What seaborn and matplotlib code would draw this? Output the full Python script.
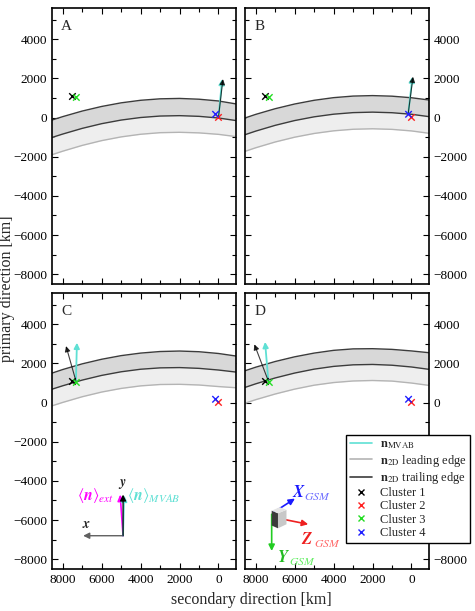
import matplotlib
matplotlib.use('Agg')
import matplotlib.pyplot as plt
import seaborn as sns
import numpy as np
from matplotlib.lines import Line2D
from matplotlib.patches import Polygon
from matplotlib.ticker import MultipleLocator, FuncFormatter


# positions along the secondary direction where the boundaries were read [km]
edge_x = [8600, 8000, 7000, 6000, 5000, 4000, 3000, 2000, 1000, 0, -900]

# boundary curves (primary direction, km) for each panel
a_upper = [-140, 50, 335, 570, 755, 885, 960, 980, 940, 850, 700]
a_trail = [-1030, -840, -550, -310, -125, 5, 80, 100, 65, -20, -150]
a_lead = [-1910, -1715, -1420, -1175, -985, -850, -770, -750, -780, -855, -970]

b_upper = [-35, 165, 455, 695, 885, 1020, 1100, 1125, 1095, 1015, 900]
b_trail = [-890, -690, -395, -150, 40, 175, 255, 280, 250, 170, 50]
b_lead = [-1740, -1540, -1245, -1000, -810, -675, -595, -570, -600, -680, -800]

c_upper = [1490, 1690, 1980, 2215, 2400, 2530, 2610, 2635, 2600, 2510, 2380]
c_trail = [670, 860, 1150, 1390, 1575, 1705, 1775, 1790, 1750, 1665, 1560]
c_lead = [-180, 10, 300, 540, 725, 855, 925, 935, 900, 820, 760]

d_upper = [1610, 1810, 2100, 2340, 2530, 2670, 2745, 2755, 2720, 2640, 2550]
d_trail = [760, 960, 1260, 1510, 1710, 1850, 1930, 1950, 1910, 1820, 1700]
d_lead = [-45, 150, 440, 690, 890, 1025, 1105, 1130, 1100, 1000, 880]

# spacecraft positions
cluster_names = ['Cluster 1', 'Cluster 2', 'Cluster 3', 'Cluster 4']
cluster_sec = [7500, 0, 7300, 150]
cluster_pri = [1080, 10, 1030, 170]
cluster_colors = ['black', '#ff2020', '#22dd22', '#2020ff']

# normal vectors for panels A-D: base point and components [km]
panel_names = ['A', 'B', 'C', 'D']
normal_sec0 = [0, 170, 7320, 7350]
normal_pri0 = [20, 190, 1100, 1100]
n2d_dsec = [-230, -250, 510, 720]
n2d_dpri = [1950, 1900, 1790, 1880]
mvab_dsec = [-190, -220, -50, 170]
mvab_dpri = [1950, 1900, 1960, 2000]

CYAN = '#5fe0d4'
DARK = '#3c3c3c'
LIGHT = '#b4b4b4'

sns.set_style('ticks')
plt.rcParams['font.family'] = 'serif'
plt.rcParams['font.serif'] = ['Liberation Serif', 'DejaVu Serif']
plt.rcParams['mathtext.fontset'] = 'stix'

fig = plt.figure(figsize=(4.75, 6.11), dpi=100)
W, H = 475.0, 611.0
boxes = [(52, 8), (245, 8), (52, 293), (245, 293)]
curves = [(a_upper, a_trail, a_lead), (b_upper, b_trail, b_lead),
          (c_upper, c_trail, c_lead), (d_upper, d_trail, d_lead)]


def arrow(ax, x0, y0, dx, dy, color, lw=1.0, alpha=1.0, scale=8):
    ax.annotate('', xy=(x0 + dx, y0 + dy), xytext=(x0, y0),
                arrowprops=dict(arrowstyle='-|>', color=color, lw=lw,
                                alpha=alpha, mutation_scale=scale,
                                shrinkA=0, shrinkB=0))


def km_label(v, pos):
    return '%d' % v if v >= 0 else '\u2212%d' % -v


axes = []
for i, (px, py) in enumerate(boxes):
    ax = fig.add_axes([px / W, 1 - (py + 276) / H, 184 / W, 276 / H])
    axes.append(ax)
    upper, trail, lead = curves[i]

    # the structure between the boundaries
    ax.fill_between(edge_x, upper, trail, color='#d8d8d8', lw=0)
    ax.fill_between(edge_x, trail, lead, color='#eeeeee', lw=0)
    sns.lineplot(x=edge_x, y=lead, ax=ax, color=LIGHT, lw=1.0,
                 sort=False, estimator=None)
    sns.lineplot(x=edge_x, y=upper, ax=ax, color=DARK, lw=1.0,
                 sort=False, estimator=None)
    sns.lineplot(x=edge_x, y=trail, ax=ax, color=DARK, lw=1.0,
                 sort=False, estimator=None)

    # normals
    arrow(ax, normal_sec0[i], normal_pri0[i], mvab_dsec[i], mvab_dpri[i],
          CYAN, lw=1.3)
    arrow(ax, normal_sec0[i], normal_pri0[i], n2d_dsec[i], n2d_dpri[i],
          'black', lw=0.8, alpha=0.75)

    sns.scatterplot(x=cluster_sec, y=cluster_pri, hue=cluster_names,
                    palette=cluster_colors, marker='x', s=22, linewidth=1.0,
                    legend=False, ax=ax, zorder=5)

    ax.set_xlim(8550, -900)
    ax.set_ylim(-8500, 5600)
    ax.xaxis.set_major_locator(MultipleLocator(2000))
    ax.xaxis.set_minor_locator(MultipleLocator(1000))
    ax.yaxis.set_major_locator(MultipleLocator(2000))
    ax.yaxis.set_minor_locator(MultipleLocator(1000))
    ax.tick_params(which='both', direction='in', top=True, right=True,
                   width=0.8, labelsize=9.5, colors='black')
    ax.tick_params(which='major', length=4)
    ax.tick_params(which='minor', length=3)
    ax.tick_params(labelleft=(i % 2 == 0), labelright=(i % 2 == 1),
                   labelbottom=(i >= 2))
    for sp in ax.spines.values():
        sp.set_linewidth(1.2)
        sp.set_color('black')
    ax.set_xlabel('')
    ax.set_ylabel('')
    ax.text(0.05, 0.955, panel_names[i], transform=ax.transAxes,
            fontsize=11, va='top', ha='left')

# --- panel C: 2D frame with the averaged normals
ax = axes[2]
ox, oy = 4900, -6800
arrow(ax, ox, oy, 2050, 0, '#606060', lw=1.0, scale=9)
arrow(ax, ox, oy, 150, 2100, '#ff00ff', lw=1.2, scale=9)
arrow(ax, ox, oy, -60, 2060, CYAN, lw=1.2, scale=9)
arrow(ax, ox, oy, 0, 2100, 'black', lw=0.9, scale=9)
ax.text(6800, -6250, r'$\mathbfit{x}$', fontsize=10, ha='center',
        va='center')
ax.text(4960, -4150, r'$\mathbfit{y}$', fontsize=10, ha='center',
        va='center')
ax.text(5380, -4750, r'$\langle\mathbfit{n}\rangle_{ext}$', color='#ff00ff',
        fontsize=11.5, ha='right', va='center')
ax.text(4720, -4750, r'$\langle\mathbfit{n}\rangle_{MVAB}$', color=CYAN,
        fontsize=11.5, ha='left', va='center')

# --- panel D: GSM frame and legend
ax = axes[3]
ax.add_patch(Polygon([(7180, -5520), (6856, -5653), (6856, -6420),
                      (7180, -6280)], closed=True, color='#3a3a3a', lw=0,
                     zorder=4))
ax.add_patch(Polygon([(6856, -5653), (6420, -5480), (6420, -6215),
                      (6856, -6420)], closed=True, color='#c8c8c8', lw=0,
                     zorder=4))
ax.add_patch(Polygon([(7180, -5520), (6760, -5340), (6420, -5480),
                      (6856, -5653)], closed=True, color='#e4e4e4', lw=0,
                     zorder=4))
arrow(ax, 7097, -5618, -1112, 715, '#1a1aff', lw=1.2, scale=9)
arrow(ax, 6585, -5960, -1282, -255, '#ee2020', lw=1.2, scale=9)
arrow(ax, 7180, -5705, 0, -1875, '#22cc22', lw=1.2, scale=9)
frame_labels = [('X', 6150, -4800, '#1a1aff', '#7070ff'),
                ('Z', 5650, -7200, '#ee2020', '#ff6a6a'),
                ('Y', 6930, -8150, '#22bb22', '#66ee66')]
for letter, lx, ly, c_main, c_sub in frame_labels:
    ax.text(lx, ly, r'$\mathbfit{%s}$' % letter, color=c_main,
            fontsize=12, ha='left', va='baseline')
    ax.annotate(r'$\mathit{GSM}$', xy=(lx, ly), xytext=(8.8, -2.2),
                textcoords='offset points', color=c_sub, fontsize=8.5,
                ha='left', va='baseline')

handles = [Line2D([], [], color=CYAN, lw=1.2),
           Line2D([], [], color=LIGHT, lw=1.2),
           Line2D([], [], color=DARK, lw=1.2)]
labels = [r'$\mathbf{n}_{\mathrm{MVAB}}$',
          r'$\mathbf{n}_{\mathrm{2D}}$ leading edge',
          r'$\mathbf{n}_{\mathrm{2D}}$ trailing edge']
for name, col in zip(cluster_names, cluster_colors):
    handles.append(Line2D([], [], ls='', marker='x', color=col, ms=4, mew=1))
    labels.append(name)
leg = ax.legend(handles, labels, loc='upper left',
                bbox_to_anchor=(0.549, 0.486), fontsize=9, frameon=True,
                fancybox=False, framealpha=1, edgecolor='black',
                labelspacing=0.1, handlelength=1.8, handletextpad=0.6,
                borderpad=0.3, borderaxespad=0)
leg.get_frame().set_linewidth(1.0)
leg.set_zorder(10)

# the right-hand labels that sit behind the legend are not shown in panel D
hidden = (-2000, -4000, -6000)
ax.yaxis.set_major_formatter(
    FuncFormatter(lambda v, pos: '' if round(v) in hidden
                  else km_label(v, pos)))

fig.text(0.015, 1 - 289 / H, 'primary direction [km]', rotation=90,
         ha='center', va='center', fontsize=11.5)
fig.text(251 / W, 1 - 600 / H, 'secondary direction [km]', ha='center',
         va='center', fontsize=11.5)

fig.savefig('out.png', dpi=100)
